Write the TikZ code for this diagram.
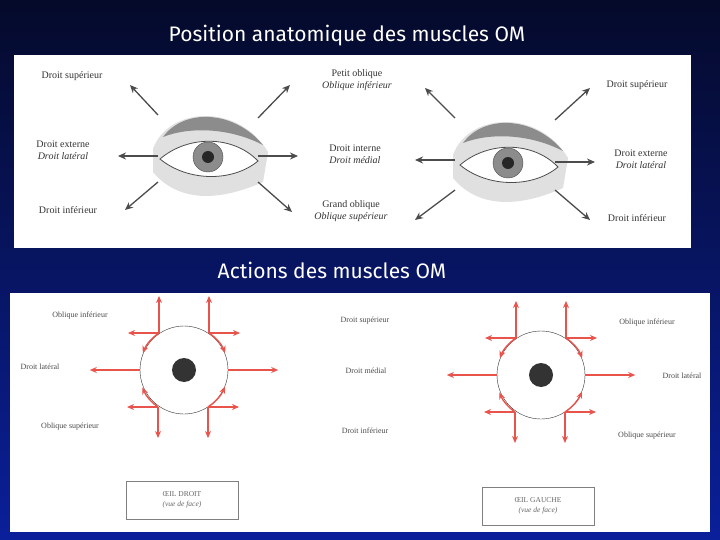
\documentclass[tikz,border=0pt]{standalone}
\usepackage{fontspec}
\setmainfont{Liberation Serif}
\newfontfamily\titlefont{Fira Sans}
\usetikzlibrary{arrows.meta, positioning, calc}
\definecolor{fondhaut}{HTML}{050A2A}
\definecolor{fondbas}{HTML}{0A1F9A}
\definecolor{fleche}{HTML}{E8544C}
\tikzset{
    titre/.style={text=white, font=\titlefont\fontsize{21}{22}\selectfont},
    etiq/.style={font=\fontsize{10}{12}\selectfont, align=center, inner sep=1pt, text=black!80},
    petit/.style={font=\fontsize{8}{9}\selectfont, text=black!70, inner sep=1pt},
    fl/.style={-{Stealth[length=8pt,width=7pt]}, black!70, line width=1.3pt},
    rouge/.style={-{Stealth[length=7pt,width=6pt]}, fleche, line width=1.4pt},
    cadre/.style={draw=black!50, fill=white, minimum width=112pt, minimum height=38pt, align=center, font=\fontsize{7.5}{9.5}\selectfont, text=black!60},
}
\newcommand{\Oeil}[2]{% center, name
  \fill[black!12] ($(#1)+(-55,-8)$) .. controls ($(#1)+(-40,-50)$) and ($(#1)+(30,-55)$) .. ($(#1)+(60,-5)$) -- ($(#1)+(55,25)$) .. controls ($(#1)+(10,45)$) and ($(#1)+(-30,45)$) .. ($(#1)+(-55,15)$) -- cycle;
  \fill[black!45] ($(#1)+(-45,-20)$) .. controls ($(#1)+(-25,-48)$) and ($(#1)+(25,-48)$) .. ($(#1)+(55,-12)$) .. controls ($(#1)+(20,-30)$) and ($(#1)+(-20,-30)$) .. cycle;
  \draw[black!70, line width=0.8pt, fill=white] ($(#1)+(-48,2)$) .. controls ($(#1)+(-20,-22)$) and ($(#1)+(25,-22)$) .. ($(#1)+(50,4)$) .. controls ($(#1)+(25,25)$) and ($(#1)+(-20,25)$) .. cycle;
  \node[circle, fill=black!45, draw=black!70, minimum size=30pt] (#2) at (#1) {};
  \fill[black!85] (#1) circle (6);
}
\begin{document}
\begin{tikzpicture}[x=1pt, y=-1pt]
  \useasboundingbox (0,0) rectangle (720,540);
  \shade[top color=fondhaut, bottom color=fondbas] (0,0) rectangle (720,540);
  \node[titre] (titre1) at (347,36) {Position anatomique des muscles OM};
  \node[titre] (titre2) at (332,270) {Actions des muscles OM};

  % panneau du haut
  \fill[white] (14,55) rectangle (691,248);
  \Oeil{208,157}{irisD}
  \Oeil{508,163}{irisG}
  \node[etiq] (dsD) at (72,76) {Droit supérieur};
  \node[etiq] (po) at (357,80) {Petit oblique\\\textit{Oblique inférieur}};
  \node[etiq] (dsG) at (637,85) {Droit supérieur};
  \node[etiq] (deD) at (63,150) {Droit externe\\\textit{Droit latéral}};
  \node[etiq] (di) at (355,154) {Droit interne\\\textit{Droit médial}};
  \node[etiq] (deG) at (641,159) {Droit externe\\\textit{Droit latéral}};
  \node[etiq] (diD) at (68,210) {Droit inférieur};
  \node[etiq] (go) at (351,211) {Grand oblique\\\textit{Oblique supérieur}};
  \node[etiq] (diG) at (637,218) {Droit inférieur};
  \foreach \a/\b/\c/\d [count=\i] in {158/115/130/85, 258/118/290/85, 158/156/118/156, 258/156/298/156, 158/182/125/210, 258/182/292/212,
      455/118/425/88, 555/120/590/88, 455/160/415/160, 555/162/595/162, 455/190/415/220, 555/190/590/220}{
    \coordinate (h\i a) at (\a,\b);
    \coordinate (h\i b) at (\c,\d);
    \draw[fl] (h\i a) -- (h\i b);
  }

  % panneau du bas
  \fill[white] (10,293) rectangle (710,532);
  \node[petit] (oiD) at (80,316) {Oblique inférieur};
  \node[petit] (dlD) at (40,367) {Droit latéral};
  \node[petit] (osD) at (70,427) {Oblique supérieur};
  \node[petit] (dsup) at (365,321) {Droit supérieur};
  \node[petit] (dmed) at (366,371) {Droit médial};
  \node[petit] (dinf) at (365,431) {Droit inférieur};
  \node[petit] (oiG) at (647,323) {Oblique inférieur};
  \node[petit] (dlG) at (682,376) {Droit latéral};
  \node[petit] (osG) at (647,436) {Oblique supérieur};
  \node[cadre] (boxD) at (182,500) {ŒIL DROIT\\\textit{(vue de face)}};
  \node[cadre] (boxG) at (538,506) {ŒIL GAUCHE\\\textit{(vue de face)}};

  \foreach \nom/\x/\y in {cD/184/370, cG/541/375}{
    \node[circle, draw=black!80, thin, minimum size=88pt, inner sep=0pt] (\nom) at (\x,\y) {};
    \fill[black!80] (\nom.center) circle (12);
    % verticales et horizontales
    \coordinate (\nom hg) at ($(\nom.center)+(-25,-37)$);
    \coordinate (\nom hd) at ($(\nom.center)+(25,-37)$);
    \coordinate (\nom bg) at ($(\nom.center)+(-26,37)$);
    \coordinate (\nom bd) at ($(\nom.center)+(24,37)$);
    \draw[rouge] (\nom hg) -- ++(0,-37);
    \draw[rouge] (\nom hd) -- ++(0,-37);
    \draw[rouge] (\nom bg) -- ++(0,31);
    \draw[rouge] (\nom bd) -- ++(0,31);
    \draw[rouge] (\nom hg) -- ++(-31,0);
    \draw[rouge] (\nom hd) -- ++(31,0);
    \draw[rouge] (\nom bg) -- ++(-31,0);
    \draw[rouge] (\nom bd) -- ++(31,0);
    \draw[rouge] (\nom.west) -- ++(-50,0);
    \draw[rouge] (\nom.east) -- ++(50,0);
    % arcs
    \draw[rouge] (\nom hg) arc[start angle=-124, end angle=-158, radius=44];
    \draw[rouge] (\nom hd) arc[start angle=-56, end angle=-22, radius=44];
    \draw[rouge] (\nom bg) arc[start angle=125, end angle=158, radius=44];
    \draw[rouge] (\nom bd) arc[start angle=57, end angle=22, radius=44];
  }
\end{tikzpicture}
\end{document}
